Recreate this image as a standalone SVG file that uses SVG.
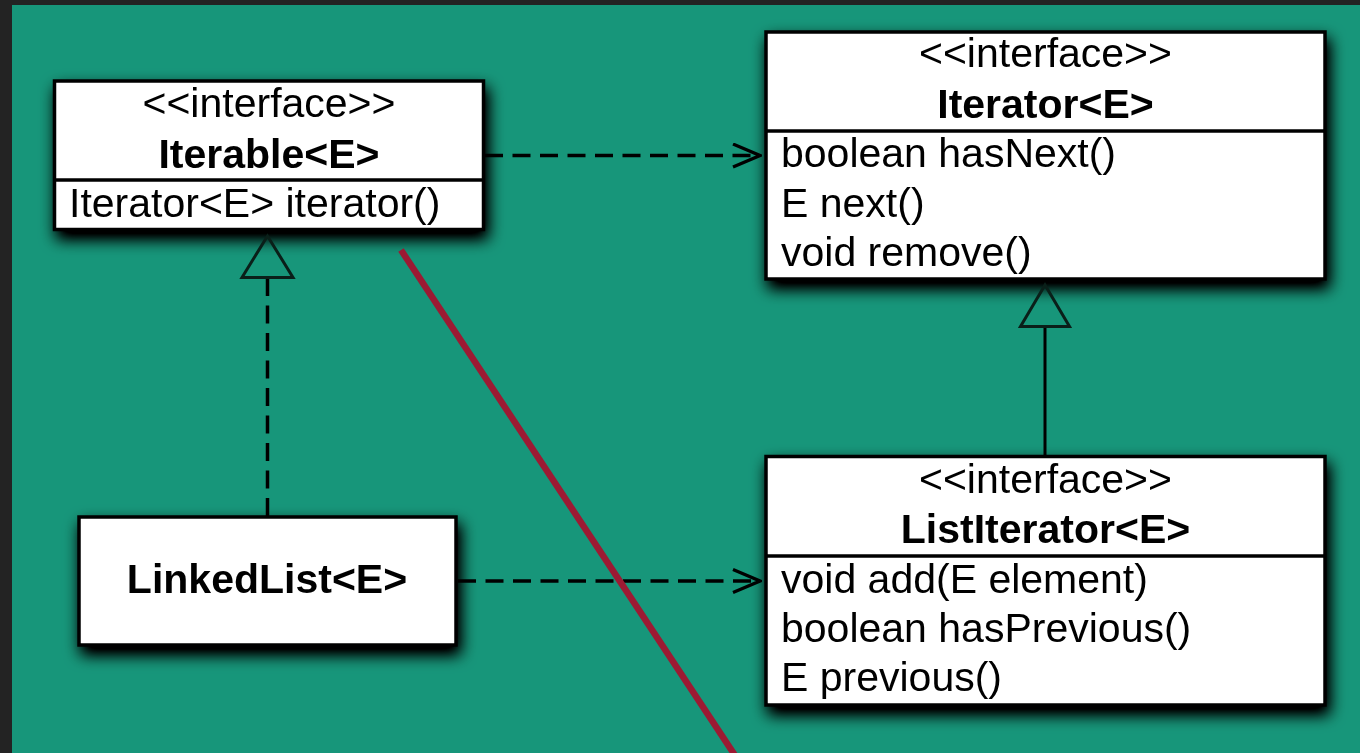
<svg xmlns="http://www.w3.org/2000/svg" width="1360" height="753" viewBox="0 0 1360 753">
  <defs>
    <style>
      .box { fill: #ffffff; stroke: #000000; stroke-width: 3.5; }
      .sep { stroke: #000000; stroke-width: 3.5; }
      .t { font-family: "Liberation Sans", Arial, sans-serif; font-size: 41px; fill: #000000; }
      .c { text-anchor: middle; }
      .b { font-weight: bold; }
      .dash { fill: none; stroke: #000000; stroke-width: 3.5; stroke-dasharray: 18 9.5; }
      .solid { fill: none; stroke: #000000; stroke-width: 3; }
      .tri { fill: none; stroke: #0a1f19; stroke-width: 3; stroke-linejoin: miter; }
    </style>
    <!-- soft drop shadow under each class box -->
    <filter id="shadow" x="-15%" y="-25%" width="135%" height="160%">
      <feGaussianBlur in="SourceAlpha" stdDeviation="8"/>
      <feOffset dx="3" dy="8" result="blur"/>
      <feComponentTransfer in="blur" result="dark">
        <feFuncA type="linear" slope="1.3"/>
      </feComponentTransfer>
      <feMerge>
        <feMergeNode in="dark"/>
        <feMergeNode in="SourceGraphic"/>
      </feMerge>
    </filter>
    <marker id="open" viewBox="0 0 30 26" markerWidth="30" markerHeight="26" refX="28" refY="13" orient="auto" markerUnits="userSpaceOnUse">
      <path d="M1,1.5 L28,13 L1,24.5" fill="none" stroke="#000000" stroke-width="3.2" stroke-dasharray="none"/>
    </marker>
  </defs>

  <!-- frame and canvas -->
  <rect x="0" y="0" width="1360" height="753" fill="#232323"/>
  <rect x="12" y="5" width="1348" height="748" fill="#17967a"/>

  <!-- classes -->
  <g id="iterable" filter="url(#shadow)">
    <rect class="box" x="54.5" y="81" width="429" height="148.5"/>
    <line class="sep" x1="54.5" y1="180" x2="483.5" y2="180"/>
    <text class="t c" x="269" y="117">&lt;&lt;interface&gt;&gt;</text>
    <text class="t c b" x="269" y="168">Iterable&lt;E&gt;</text>
    <text class="t" x="69" y="216.5">Iterator&lt;E&gt; iterator()</text>
  </g>

  <g id="iterator" filter="url(#shadow)">
    <rect class="box" x="766" y="32" width="559" height="247"/>
    <line class="sep" x1="766" y1="131" x2="1325" y2="131"/>
    <text class="t c" x="1045.5" y="66.5">&lt;&lt;interface&gt;&gt;</text>
    <text class="t c b" x="1045.5" y="118">Iterator&lt;E&gt;</text>
    <text class="t" x="781" y="167">boolean hasNext()</text>
    <text class="t" x="781" y="216.5">E next()</text>
    <text class="t" x="781" y="266">void remove()</text>
  </g>

  <g id="linkedlist" filter="url(#shadow)">
    <rect class="box" x="79" y="517" width="377" height="128"/>
    <text class="t c b" x="267" y="593">LinkedList&lt;E&gt;</text>
  </g>

  <g id="listiterator" filter="url(#shadow)">
    <rect class="box" x="766" y="456.5" width="559" height="248.5"/>
    <line class="sep" x1="766" y1="556" x2="1325" y2="556"/>
    <text class="t c" x="1045.5" y="493">&lt;&lt;interface&gt;&gt;</text>
    <text class="t c b" x="1045.5" y="543">ListIterator&lt;E&gt;</text>
    <text class="t" x="781" y="593">void add(E element)</text>
    <text class="t" x="781" y="642">boolean hasPrevious()</text>
    <text class="t" x="781" y="691">E previous()</text>
  </g>

  <!-- relationships -->
  <g id="connectors">
    <!-- Iterable uses Iterator -->
    <line class="dash" x1="485" y1="155.5" x2="760" y2="155.5" marker-end="url(#open)"/>
    <!-- LinkedList uses ListIterator -->
    <line class="dash" x1="458" y1="581" x2="760" y2="581" marker-end="url(#open)"/>
    <!-- LinkedList realizes Iterable -->
    <line class="dash" x1="267.5" y1="278" x2="267.5" y2="516"/>
    <polygon class="tri" points="267.5,236 242,277.5 293,277.5"/>
    <!-- ListIterator extends Iterator -->
    <line class="solid" x1="1045" y1="327" x2="1045" y2="455"/>
    <polygon class="tri" points="1045,285 1020.5,326.5 1069.5,326.5"/>
  </g>

  <!-- strike-through line -->
  <line x1="401" y1="250" x2="740" y2="763" stroke="#9c1a33" stroke-width="6.5" stroke-linecap="butt"/>
</svg>
